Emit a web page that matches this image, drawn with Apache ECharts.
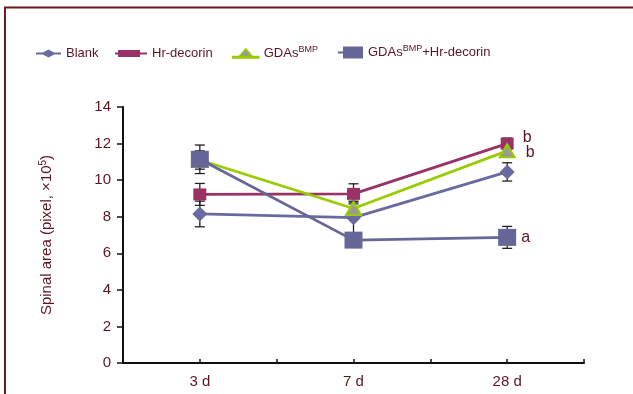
<!DOCTYPE html>
<html>
<head>
<meta charset="utf-8">
<script src="https://cdn.jsdelivr.net/npm/echarts@6/dist/echarts.min.js"></script>
<style>html,body{margin:0;padding:0;background:#fff;}#c{width:633px;height:394px;}</style>
</head>
<body>
<div id="c"></div>
<script>
const categories = ['3 d', '7 d', '28 d'];
const seriesNames = ['Blank', 'Hr-decorin', 'GDAs{sup|BMP}', 'GDAs{sup|BMP}+Hr-decorin'];
const blank = [8.15, 7.95, 10.45];
const blankErr = [0.7, 0.9, 0.5];
const hrDecorin = [9.22, 9.25, 12.0];
const hrDecorinErr = [0.6, 0.55, 0.3];
const gdas = [11.1, 8.45, 11.6];
const gdasErr = [0.5, 0.35, 0.3];
const combo = [11.14, 6.72, 6.87];
const comboErr = [0.78, 0.3, 0.6];
const sigLabels = ['', 'b', 'b', 'a'];
const yTicks = [0, 2, 4, 6, 8, 10, 12, 14];

const txt = '#5c1520';
const font = 'Liberation Sans, Arial, sans-serif';
const colors = ['#6a6aa0', '#993366', '#99cc00', '#666699'];
const values = [blank, hrDecorin, gdas, combo];
const errs = [blankErr, hrDecorinErr, gdasErr, comboErr];
const symbols = ['diamond', 'rect', 'triangle', 'rect'];
const symSizes = [[15, 15], [13, 12], [15, 13], [18, 17]];
const labelDist = [0, 9, 10, 5];
const labelOffset = [[0, 0], [0, -6], [0, 2], [0, 0]];
const xPos = i => 2 * i + 1;

const series = [];
values.forEach((vals, s) => {
  series.push({
    type: 'custom',
    name: 'err' + s,
    z: 1,
    silent: true,
    data: vals.map((v, i) => [xPos(i), v - errs[s][i], v + errs[s][i]]),
    renderItem: function (params, api) {
      const lo = api.coord([api.value(0), api.value(1)]);
      const hi = api.coord([api.value(0), api.value(2)]);
      const w = 5;
      const st = { stroke: '#222', lineWidth: 1.3 };
      return {
        type: 'group',
        children: [
          { type: 'line', shape: { x1: lo[0], y1: lo[1], x2: hi[0], y2: hi[1] }, style: st },
          { type: 'line', shape: { x1: lo[0] - w, y1: lo[1], x2: lo[0] + w, y2: lo[1] }, style: st },
          { type: 'line', shape: { x1: hi[0] - w, y1: hi[1], x2: hi[0] + w, y2: hi[1] }, style: st }
        ]
      };
    }
  });
});
values.forEach((vals, s) => {
  series.push({
    type: 'line',
    name: seriesNames[s],
    z: 3 + s,
    data: vals.map((v, i) => {
      const item = { value: [xPos(i), v] };
      if (i === vals.length - 1 && sigLabels[s]) {
        item.label = {
          show: true, formatter: sigLabels[s], position: 'right',
          distance: labelDist[s], offset: labelOffset[s],
          color: txt, fontSize: 16, fontFamily: font
        };
      }
      return item;
    }),
    symbol: symbols[s],
    symbolSize: symSizes[s],
    showSymbol: true,
    lineStyle: { color: colors[s], width: 2.8 },
    itemStyle: s === 2 ? { color: '#999999', borderColor: '#99cc00', borderWidth: 2 } : { color: colors[s], borderWidth: 0 },
    emphasis: { disabled: true },
    animation: false
  });
});

// legend icon shapes (line + marker), drawn in each icon's own box
const legendIcons = [
  'path://M0,3h25v2h-25Z M5,4L12.5,0L20,4L12.5,8Z',
  'path://M0,2.5h32v2h-32Z M3,0h22v7h-22Z',
  'path://M0,7.5h26v1.5h-26Z M6,8L13,0L20,8Z',
  'path://M0,5h25v2h-25Z M5,0h20v12h-20Z'
];
const legendBox = [[25, 8], [32, 7], [26, 9], [25, 12]];
const legendLeft = [31, 110, 227, 333];
const legendTop = [42, 42, 40, 39];
const legends = seriesNames.map((n, i) => ({
  left: legendLeft[i], top: legendTop[i],
  itemWidth: legendBox[i][0], itemHeight: legendBox[i][1],
  symbolKeepAspect: false,
  data: [{
    name: n, icon: legendIcons[i],
    itemStyle: i === 2 ? { color: '#999999', borderColor: '#99cc00', borderWidth: 1.5 } : { color: colors[i], borderWidth: 0 }
  }],
  formatter: x => x,
  selectedMode: false,
  textStyle: {
    color: txt, fontSize: 13, fontFamily: font,
    rich: { sup: { fontSize: 9, verticalAlign: 'top', padding: [0, 0, 8, 0], color: txt, fontFamily: font } }
  }
}));

const chart = echarts.init(document.getElementById('c'));
chart.setOption({
  animation: false,
  backgroundColor: '#fff',
  textStyle: { fontFamily: font },
  graphic: [{
    type: 'rect', shape: { x: 5, y: 7.5, width: 900, height: 600 },
    style: { fill: 'none', stroke: '#6b1a1f', lineWidth: 2 }, z: 0, silent: true
  }],
  legend: legends,
  grid: { left: 123, top: 107, right: 49, bottom: 31 },
  xAxis: {
    type: 'value', min: 0, max: 6, interval: 1,
    axisLine: { lineStyle: { color: '#111', width: 2 } },
    axisTick: { show: true, inside: true, length: 4, lineStyle: { color: '#111', width: 1.5 } },
    splitLine: { show: false },
    axisLabel: {
      color: txt, fontSize: 15, margin: 11, fontFamily: font,
      formatter: v => (v % 2 === 1 ? categories[(v - 1) / 2] : '')
    }
  },
  yAxis: {
    type: 'value', min: yTicks[0], max: yTicks[yTicks.length - 1], interval: 2,
    name: 'Spinal area (pixel, \u00d710{sup|5})',
    nameLocation: 'middle', nameGap: 67, nameRotate: 90,
    nameTextStyle: {
      color: txt, fontSize: 15, fontFamily: font,
      rich: { sup: { fontSize: 10, verticalAlign: 'top', padding: [0, 0, 8, 0], color: txt, fontFamily: font } }
    },
    axisLine: { show: true, lineStyle: { color: '#111', width: 2 } },
    axisTick: { show: true, length: 6, lineStyle: { color: '#111', width: 1.5 } },
    splitLine: { show: false },
    axisLabel: { color: txt, fontSize: 15, margin: 12, fontFamily: font }
  },
  series: series
});
</script>
</body>
</html>
